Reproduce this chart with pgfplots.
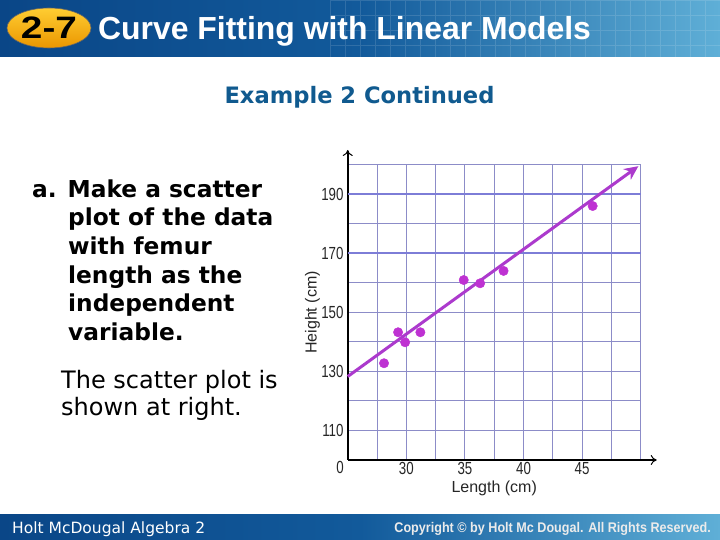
\documentclass[border=0pt]{standalone}
\usepackage{pgfplots}
\pgfplotsset{compat=1.18}
\usepackage{fontspec}
\setmainfont{Liberation Sans}
\newfontfamily\dejavu{DejaVu Sans}
\newfontfamily\narrowsans[FakeStretch=0.76]{Liberation Sans}
\usetikzlibrary{arrows.meta}
\definecolor{gridc}{RGB}{140,140,200}
\definecolor{gridb}{RGB}{125,125,215}
\definecolor{linec}{RGB}{172,58,205}
\definecolor{dotc}{RGB}{190,50,210}
\definecolor{hdrL}{RGB}{10,70,135}
\definecolor{hdrM}{RGB}{18,90,155}
\definecolor{hdrR}{RGB}{95,175,215}
\definecolor{exc}{RGB}{16,90,143}
\definecolor{badgeT}{RGB}{255,205,50}
\definecolor{badgeB}{RGB}{235,150,0}
\begin{document}
\begin{tikzpicture}[x=1pt,y=1pt]
\useasboundingbox (0,0) rectangle (720,540);
\fill[white] (0,0) rectangle (720,540);
% header band
\shade[left color=hdrL, right color=hdrR, middle color=hdrM] (0,483) rectangle (720,540);
\begin{scope}
\clip (330,483) rectangle (720,540);
\draw[white, opacity=0.13, line width=0.8pt, step=15] (330,480) grid (735,545);
\end{scope}
% footer band
\shade[left color=hdrL, right color=hdrR, middle color=hdrM] (0,0) rectangle (720,25);
% badge
\shade[top color=badgeT, bottom color=badgeB, draw=black!60, line width=0.6pt] (49,512) ellipse [x radius=42, y radius=20];
\node[inner sep=0pt, anchor=base] at (49,501) {\scalebox{1.25}[1]{\fontsize{31}{31}\selectfont\bfseries 2-7}};
\node[inner sep=0pt, anchor=base west, text=white] at (98,500) {\fontsize{31.9}{31.9}\selectfont\bfseries Curve Fitting with Linear Models};
% footer texts
\node[inner sep=0pt, anchor=base west, text=white] at (12,6) {\dejavu\fontsize{15.5}{15.5}\selectfont Holt McDougal Algebra 2};
\node[inner sep=0pt, anchor=base east, text=black!8] at (711,7) {\scalebox{0.9}[1]{\fontsize{14}{14}\selectfont\bfseries Copyright \textcopyright{} by Holt Mc Dougal. All Rights Reserved.}};
% subtitle
\node[inner sep=0pt, anchor=base, text=exc] at (359.5,436) {\dejavu\fontsize{22.6}{22.6}\selectfont\bfseries Example 2 Continued};
% left text
\begin{scope}[every node/.style={inner sep=0pt, anchor=base west, font=\dejavu\bfseries\fontsize{23.3}{23.3}\selectfont}]
\node at (32,342.5) {a. Make a scatter};
\node at (68,314) {plot of the data};
\node at (68,285.3) {with femur};
\node at (68,256.7) {length as the};
\node at (68,228) {independent};
\node at (68,199.5) {variable.};
\end{scope}
\begin{scope}[every node/.style={inner sep=0pt, anchor=base west, font=\dejavu\fontsize{24}{24}\selectfont}]
\node at (61,151) {The scatter plot is};
\node at (61,124) {shown at right.};
\end{scope}
% chart
\begin{axis}[
  at={(347.7pt,80pt)}, anchor=south west,
  scale only axis, width=293pt, height=295pt,
  xmin=25, xmax=50, ymin=100, ymax=200,
  clip=false,
  axis lines=left,
  axis line style={line width=2pt, black},
  x axis line style={-{To[length=6pt,width=10pt,line width=1pt]}, shorten >=-16pt},
  y axis line style={-{To[length=6pt,width=10pt,line width=1pt]}, shorten >=-15pt},
  xtick={27.5,30,32.5,35,37.5,40,42.5,45,47.5,50},
  xticklabels={,30,,35,,40,,45,,},
  ytick={110,120,130,140,150,160,170,180,190,200},
  yticklabels={110,,130,,150,,170,,190,},
  extra y ticks={170,190},
  extra y tick labels={},
  extra y tick style={grid=major, major grid style={gridb, line width=2pt}},
  major tick length=0pt,
  tick style={draw=none},
  grid=major,
  major grid style={gridc, line width=1pt},
  /pgf/number format/assume math mode=true,
  tick label style={font=\narrowsans\fontsize{17.5}{17.5}\selectfont, text=black!85, inner sep=0pt},
  xticklabel style={anchor=north, yshift=-2pt},
  yticklabel style={anchor=east, xshift=-4pt},
  xlabel={Length (cm)}, ylabel={Height (cm)},
  every axis x label/.style={at={(axis description cs:0.5,-0.097)}, anchor=center, font=\fontsize{16}{16}\selectfont, text=black!85},
  every axis y label/.style={at={(axis description cs:-0.12,0.5)}, rotate=90, anchor=center, font=\fontsize{16}{16}\selectfont, text=black!85},
]
\addplot[linec, line width=3pt, -{Stealth[length=14pt,width=13pt]}] coordinates {(25,128.3) (49.8,199.6)};
\addplot[only marks, mark=*, mark size=4.7pt, dotc, mark options={draw=dotc, fill=dotc}] coordinates {
(28.1,132.8) (29.3,143.3) (29.9,139.9) (31.2,143.3) (34.9,161.0) (36.3,159.9) (38.3,164.1) (45.9,186.1)};
\end{axis}
\node[inner sep=0pt, font=\narrowsans\fontsize{17.5}{17.5}\selectfont, text=black!85] at (340,73) {0};
\end{tikzpicture}
\end{document}
